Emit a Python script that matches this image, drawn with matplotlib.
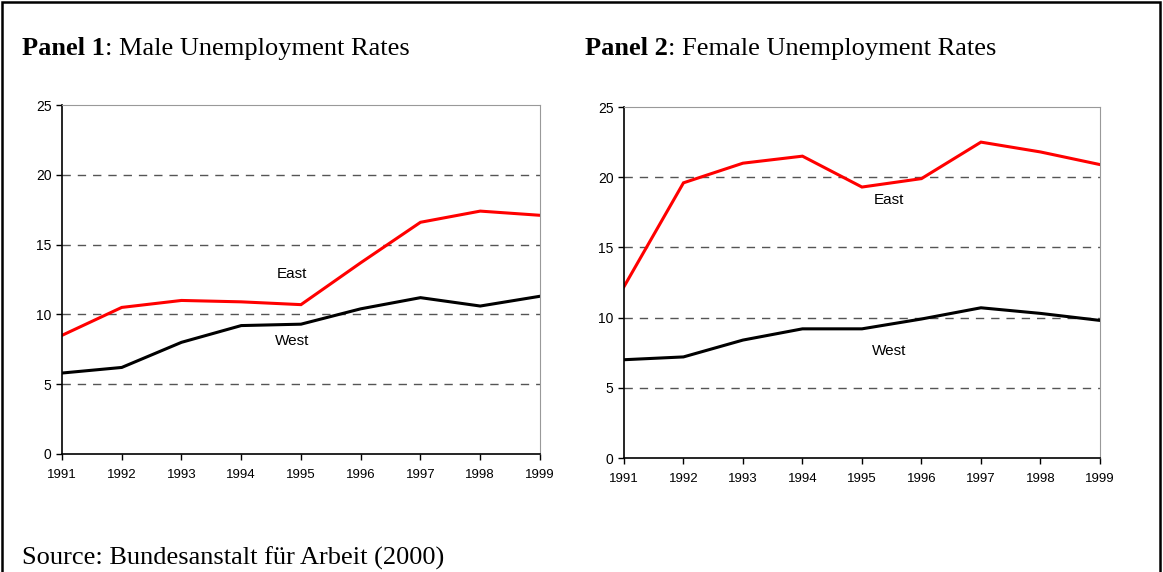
import matplotlib

matplotlib.use("Agg")
import matplotlib.pyplot as plt
from matplotlib.patches import Rectangle

years = [1991, 1992, 1993, 1994, 1995, 1996, 1997, 1998, 1999]

male_east = [8.5, 10.5, 11.0, 10.9, 10.7, 13.7, 16.6, 17.4, 17.1]
male_west = [5.8, 6.2, 8.0, 9.2, 9.3, 10.4, 11.2, 10.6, 11.3]

female_east = [12.2, 19.6, 21.0, 21.5, 19.3, 19.9, 22.5, 21.8, 20.9]
female_west = [7.0, 7.2, 8.4, 9.2, 9.2, 9.9, 10.7, 10.3, 9.8]

yticks = [0, 5, 10, 15, 20, 25]

panels = [
    ("Panel 1", ": Male Unemployment Rates", male_east, male_west,
     (1994.85, 12.9), (1994.85, 8.1)),
    ("Panel 2", ": Female Unemployment Rates", female_east, female_west,
     (1995.45, 18.4), (1995.45, 7.6)),
]

tick_font = ["Liberation Sans Narrow", "Liberation Sans", "DejaVu Sans"]
serif = ["Liberation Serif", "DejaVu Serif"]

fig = plt.figure(figsize=(11.63, 5.72), dpi=100)
fig.patch.set_facecolor("white")

# outer frame (bottom edge falls outside the picture)
fig.patches.append(Rectangle((0.0015, -0.05), 0.9955, 1.047, transform=fig.transFigure,
                             fill=False, edgecolor="black", linewidth=1.8))

ax_rects = [(0.0533, 0.2063, 0.4110, 0.6101), (0.5365, 0.1993, 0.4093, 0.6136)]
title_x = [0.019, 0.503]

for (bold, rest, east, west, east_pos, west_pos), rect, tx in zip(panels, ax_rects, title_x):
    ax = fig.add_axes(rect)
    ax.plot(years, east, color="#ff0000", linewidth=2.2, solid_joinstyle="miter")
    ax.plot(years, west, color="black", linewidth=2.2, solid_joinstyle="miter")
    ax.set_xlim(1991, 1999)
    ax.set_ylim(0, 25)
    ax.set_xticks(years)
    ax.set_yticks(yticks)
    ax.set_xticklabels([str(y) for y in years], family=tick_font, fontsize=9.5)
    ax.set_yticklabels([str(v) for v in yticks], family=tick_font, fontsize=10)
    ax.tick_params(axis="both", direction="out", length=4, width=1)
    ax.tick_params(axis="x", pad=6.5)
    ax.tick_params(axis="y", pad=3.5)
    for v in yticks[1:-1]:
        ax.axhline(v, color="#555555", linestyle=(0, (6, 5)), linewidth=1, zorder=0)
    ax.spines["top"].set_color("#999999")
    ax.spines["right"].set_color("#999999")
    ax.spines["left"].set_linewidth(1.2)
    ax.spines["bottom"].set_linewidth(1.2)
    ax.text(east_pos[0], east_pos[1], "East", family=tick_font, fontsize=11,
            ha="center", va="center")
    ax.text(west_pos[0], west_pos[1], "West", family=tick_font, fontsize=11,
            ha="center", va="center")

    t = fig.text(tx, 0.904, bold, family=serif, fontsize=19, fontweight="bold",
                 ha="left", va="baseline")
    fig.canvas.draw()
    bb = t.get_window_extent()
    fig.text(bb.x1 / fig.bbox.width, 0.904, rest, family=serif, fontsize=19,
             ha="left", va="baseline")

fig.text(0.019, 0.0125, "Source: Bundesanstalt für Arbeit (2000)", family=serif,
         fontsize=19, ha="left", va="baseline")

fig.savefig("out.png", dpi=100)
